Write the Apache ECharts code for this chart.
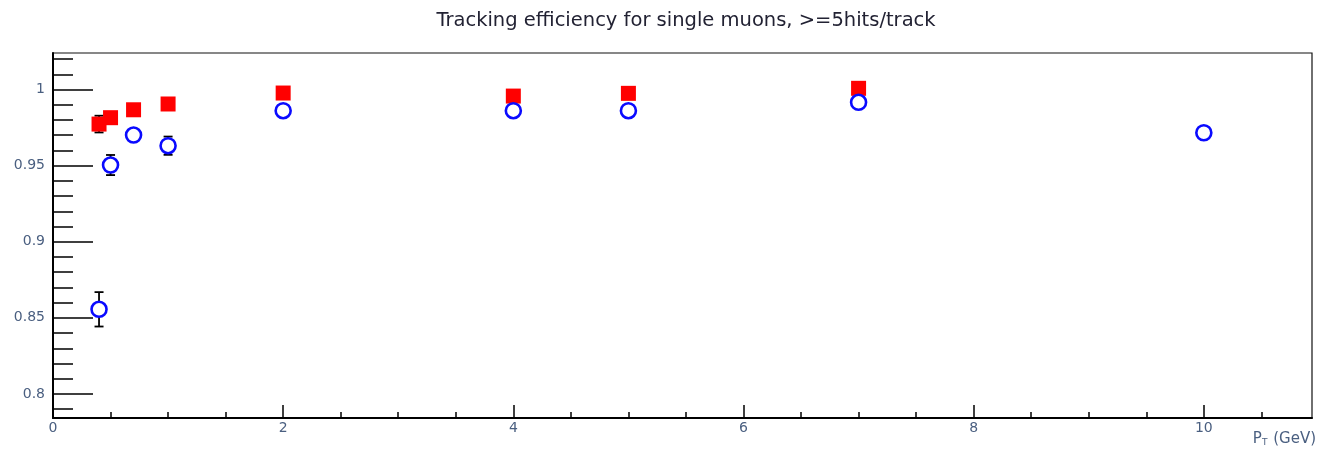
<!DOCTYPE html>
<html><head><meta charset="utf-8">
<script src="https://cdn.jsdelivr.net/npm/echarts@6/dist/echarts.min.js"></script>
<style>html,body{margin:0;padding:0;background:#fff}#c{width:1319px;height:452px}</style>
</head><body><div id="c"></div>
<script>
const redX = [0.4, 0.5, 0.7, 1, 2, 4, 5, 7];
const redY = [0.9773, 0.9815, 0.9867, 0.9905, 0.9977, 0.9957, 0.9975, 1.0008];
const redErr = [0.0055, 0.003, 0.002, 0.002, 0.001, 0.001, 0.001, 0.001];
const blueX = [0.4, 0.5, 0.7, 1, 2, 4, 5, 7, 10];
const blueY = [0.8556, 0.9504, 0.9701, 0.9631, 0.9861, 0.9861, 0.9861, 0.9916, 0.9716];
const blueErr = [0.0113, 0.0066, 0.004, 0.006, 0.002, 0.002, 0.002, 0.002, 0.002];
const xMajor = [0, 2, 4, 6, 8, 10];
const yMajor = [0.8, 0.85, 0.9, 0.95, 1];

const xMinor = []; for (let i = 0; i <= 21; i++) xMinor.push(i * 0.5);
const yMinor = []; for (let i = 79; i <= 102; i++) yMinor.push(i / 100);

function errItem(params, api) {
  const x = api.value(0), y = api.value(1), e = api.value(2);
  const top = api.coord([x, y + e]), bot = api.coord([x, y - e]);
  const w = 4.5;
  const st = { stroke: '#000', lineWidth: 1.8 };
  return { type: 'group', children: [
    { type: 'line', shape: { x1: top[0], y1: top[1], x2: bot[0], y2: bot[1] }, style: st },
    { type: 'line', shape: { x1: top[0] - w, y1: top[1], x2: top[0] + w, y2: top[1] }, style: st },
    { type: 'line', shape: { x1: bot[0] - w, y1: bot[1], x2: bot[0] + w, y2: bot[1] }, style: st }
  ]};
}

const FONT = 'DejaVu Sans';
const LBL = '#4a5f80';
const chart = echarts.init(document.getElementById('c'), null, { renderer: 'canvas' });
const XMIN = 0, XMAX = 10.94, YMIN = 0.7842, YMAX = 1.024;
chart.setOption({
  animation: false,
  title: { text: 'Tracking efficiency for single muons, >=5hits/track', left: 681, textAlign: 'center', top: 6,
    textStyle: { fontFamily: FONT, fontSize: 19.5, fontWeight: 'normal', color: '#222233' } },
  grid: { left: 53, right: 7, top: 53, bottom: 34, show: true, borderColor: '#111', borderWidth: 1.2, backgroundColor: 'transparent' },
  xAxis: [
    { type: 'value', min: XMIN, max: XMAX, position: 'bottom',
      axisLine: { show: true, onZero: false, lineStyle: { color: '#000', width: 2 } },
      axisTick: { show: true, inside: true, length: 6, customValues: xMinor, lineStyle: { color: '#000', width: 1.5 } },
      axisLabel: { show: true, customValues: xMajor, margin: 3, fontFamily: FONT, fontSize: 14, color: LBL },
      splitLine: { show: false } },
    { type: 'value', min: XMIN, max: XMAX, position: 'bottom',
      axisLine: { show: false },
      axisTick: { show: true, inside: true, length: 13, customValues: xMajor, lineStyle: { color: '#000', width: 1.5 } },
      axisLabel: { show: false }, splitLine: { show: false } }
  ],
  yAxis: [
    { type: 'value', min: YMIN, max: YMAX, position: 'left',
      axisLine: { show: true, onZero: false, lineStyle: { color: '#000', width: 2 } },
      axisTick: { show: true, inside: true, length: 20, customValues: yMinor, lineStyle: { color: '#000', width: 1.5 } },
      axisLabel: { show: true, customValues: yMajor, margin: 8, fontFamily: FONT, fontSize: 14, color: LBL },
      splitLine: { show: false } },
    { type: 'value', min: YMIN, max: YMAX, position: 'left',
      axisLine: { show: false },
      axisTick: { show: true, inside: true, length: 40, customValues: yMajor, lineStyle: { color: '#000', width: 1.5 } },
      axisLabel: { show: false }, splitLine: { show: false } }
  ],
  graphic: [
    { type: 'text', right: 3, top: 432, style: {
      text: '{p|P}{s|T}{p| (GeV)}',
      rich: { p: { fontFamily: FONT, fontSize: 15, fill: LBL },
              s: { fontFamily: FONT, fontSize: 9, fill: LBL, padding: [7, 1, 0, 0] } } } }
  ],
  series: [
    { type: 'custom', renderItem: errItem, z: 1,
      data: redX.map((x, i) => [x, redY[i], redErr[i]]) },
    { type: 'custom', renderItem: errItem, z: 1,
      data: blueX.map((x, i) => [x, blueY[i], blueErr[i]]) },
    { type: 'scatter', z: 3, symbol: 'rect', symbolSize: 15,
      itemStyle: { color: '#ff0000', opacity: 1 },
      data: redX.map((x, i) => [x, redY[i]]) },
    { type: 'scatter', z: 4, symbol: 'circle', symbolSize: 15,
      itemStyle: { color: '#ffffff', borderColor: '#0a0aff', borderWidth: 2.6, opacity: 1 },
      data: blueX.map((x, i) => [x, blueY[i]]) }
  ]
});
</script></body></html>
